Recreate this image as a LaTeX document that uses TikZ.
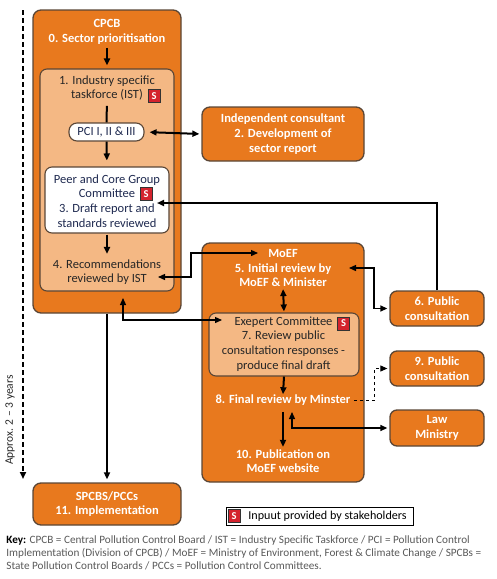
\documentclass[tikz,border=0pt]{standalone}
\usepackage{fontspec}
\setmainfont{Carlito}
\usetikzlibrary{arrows.meta}
\definecolor{orangebox}{HTML}{E8791E}
\definecolor{lightbox}{HTML}{F4B884}
\definecolor{edge}{HTML}{5A4636}
\definecolor{sred}{HTML}{D4232E}
\definecolor{navytext}{HTML}{1F2A50}
\definecolor{keygrey}{HTML}{595959}
\newcommand{\boxfont}{\fontsize{12.5}{14.6}\selectfont}
\begin{document}
\begin{tikzpicture}[x=1pt,y=-1pt,thick,inner sep=0pt,>={Triangle[length=7pt,width=6pt]},
    outer/.style={rectangle,rounded corners=8pt,draw=edge,line width=1.3pt,fill=orangebox},
    inner/.style={rectangle,rounded corners=7pt,draw=edge,line width=1.1pt,fill=lightbox},
    whitebox/.style={rectangle,rounded corners=7pt,draw=edge,line width=1.1pt,fill=white},
    wtext/.style={align=center,text=white,font=\boxfont\bfseries},
    dtext/.style={align=center,text=black!85,font=\boxfont},
    ntext/.style={align=center,text=navytext,font=\boxfont},
    sbox/.style={rectangle,draw=black!80,line width=0.8pt,fill=sred,text=white,
        font=\fontsize{10.5}{10.5}\selectfont\bfseries,minimum width=12pt,minimum height=13pt},
    link/.style={line width=1.3pt},
    main/.style={line width=2pt}]
    \useasboundingbox (0,0) rectangle (496,579);

    %timeline
    \coordinate (Ttop) at (23,10);
    \coordinate (Tend) at (23,479);
    \draw [->,main,dash pattern=on 5pt off 3pt] (Ttop) -- (Tend);
    \node (Tlab) at (10,420) [rotate=90,font=\fontsize{11.5}{12}\selectfont,text=black!85]{Approx. 2 – 3 years};

    %CPCB
    \node (CPCB) at (107,161.5) [outer,minimum width=148pt,minimum height=303pt]{};
    \node (T0) at (107,32) [wtext]{CPCB\\0. Sector prioritisation};
    \node (IST) at (107,180) [inner,minimum width=134pt,minimum height=222pt]{};
    \node (T1) at (107,88) [dtext]{1. Industry specific\\taskforce (IST)};
    \node (S1) at (154,96) [sbox]{S};
    \node (PCI) at (106.5,132) [whitebox,rounded corners=8pt,minimum width=75pt,minimum height=18pt,ntext]{PCI I, II \& III};
    \node (Peer) at (107,200) [whitebox,minimum width=124pt,minimum height=66pt]{};
    \node (T3) at (107,201) [ntext]{Peer and Core Group\\Committee\\3. Draft report and\\standards reviewed};
    \node (S3) at (146,194) [sbox]{S};
    \node (T4) at (107,272) [dtext]{4. Recommendations\\reviewed by IST};

    \draw [->,main,shorten <=3pt,shorten >=3pt] (T0.south) -- (IST.north);
    \draw [main,shorten <=5pt] (T1.south) -- (PCI.north);
    \draw [->,main,shorten >=6pt] (PCI.south) -- (Peer.north);
    \draw [->,main,shorten <=1pt,shorten >=5pt] (Peer.south) -- (T4.north);

    %independent consultant
    \node (Indep) at (283,134) [outer,wtext,minimum width=162pt,minimum height=54pt]{Independent consultant\\2. Development of\\sector report};
    \draw [<->,main,shorten <=5pt,shorten >=2pt] (PCI.east) -- (Indep.west);

    %MoEF
    \node (MoEF) at (283,362.5) [outer,minimum width=162pt,minimum height=239pt]{};
    \node (T5) at (283,268) [wtext]{MoEF\\5. Initial review by\\MoEF \& Minister};
    \node (Exp) at (284,344.5) [inner,minimum width=150pt,minimum height=63pt]{};
    \node (T7) at (283.5,344) [dtext]{Exepert Committee\\7. Review public\\consultation responses -\\produce final draft};
    \node (S7) at (343.5,323.5) [sbox]{S};
    \node (T8) at (283,400) [wtext]{8. Final review by Minster};
    \node (T10) at (283,461) [wtext]{10. Publication on\\MoEF website};

    \draw [<->,main,shorten <=2pt,shorten >=1pt] (T5.south) -- (Exp.north);
    \draw [->,main] (Exp.south) -- (T8.north);
    \draw [->,main,shorten <=6pt,shorten >=2pt] (T8.south) -- (T10.north);

    %outside bodies
    \node (P6) at (437,308.5) [outer,wtext,rounded corners=7pt,minimum width=94pt,minimum height=35pt]{6. Public\\consultation};
    \node (P9) at (437,368.5) [outer,wtext,rounded corners=7pt,minimum width=94pt,minimum height=35pt]{9. Public\\consultation};
    \node (Law) at (437,428) [outer,wtext,rounded corners=7pt,minimum width=94pt,minimum height=36pt]{Law\\Ministry};
    \node (SPCB) at (107,504) [outer,wtext,minimum width=148pt,minimum height=42pt]{SPCBS/PCCs\\11. Implementation};

    %links
    \coordinate (Pin) at (157,203);
    \coordinate (R4) at (158,277);
    \coordinate (L5) at (258,253);
    \coordinate (R5) at (349,268);
    \coordinate (B4) at (123,298);
    \coordinate (L7) at (222,320);
    \coordinate (U8) at (292,412);
    \draw [->,main] (P6.north) |- (Pin);
    \draw [<->,link] (R4) -- ++(33,0) |- (L5);
    \draw [<->,link,shorten >=2pt] (R5) -- ++(25,0) |- (P6.west);
    \draw [<->,link] (B4) |- (L7);
    \draw [->,line width=1pt,dashed,shorten <=3pt,shorten >=2pt] (T8.east) -- ++(24,0) |- (P9.west);
    \draw [<->,link,shorten >=2pt] (U8) |- (Law.west);
    \draw [->,main,shorten >=3pt] (CPCB.south) -- (SPCB.north);

    %legend and key
    \node (Leg) at (319.5,516) [rectangle,draw=black,line width=1pt,fill=white,minimum width=187pt,minimum height=18pt]{};
    \node (SL) at (234,516) [sbox]{S};
    \node (LegT) at (248,516) [anchor=west,font=\fontsize{12.1}{14}\selectfont,text=black]{Inpuut provided by stakeholders};
    \node (Key) at (6,535) [anchor=north west,align=left,font=\fontsize{11.2}{13}\selectfont,text=keygrey]{\textcolor{black}{\bfseries Key:} CPCB = Central Pollution Control Board / IST = Industry Specific Taskforce / PCI = Pollution Control\\Implementation (Division of CPCB) / MoEF = Ministry of Environment, Forest \& Climate Change / SPCBs =\\State Pollution Control Boards / PCCs = Pollution Control Committees.};
 \end{tikzpicture}
\end{document}
